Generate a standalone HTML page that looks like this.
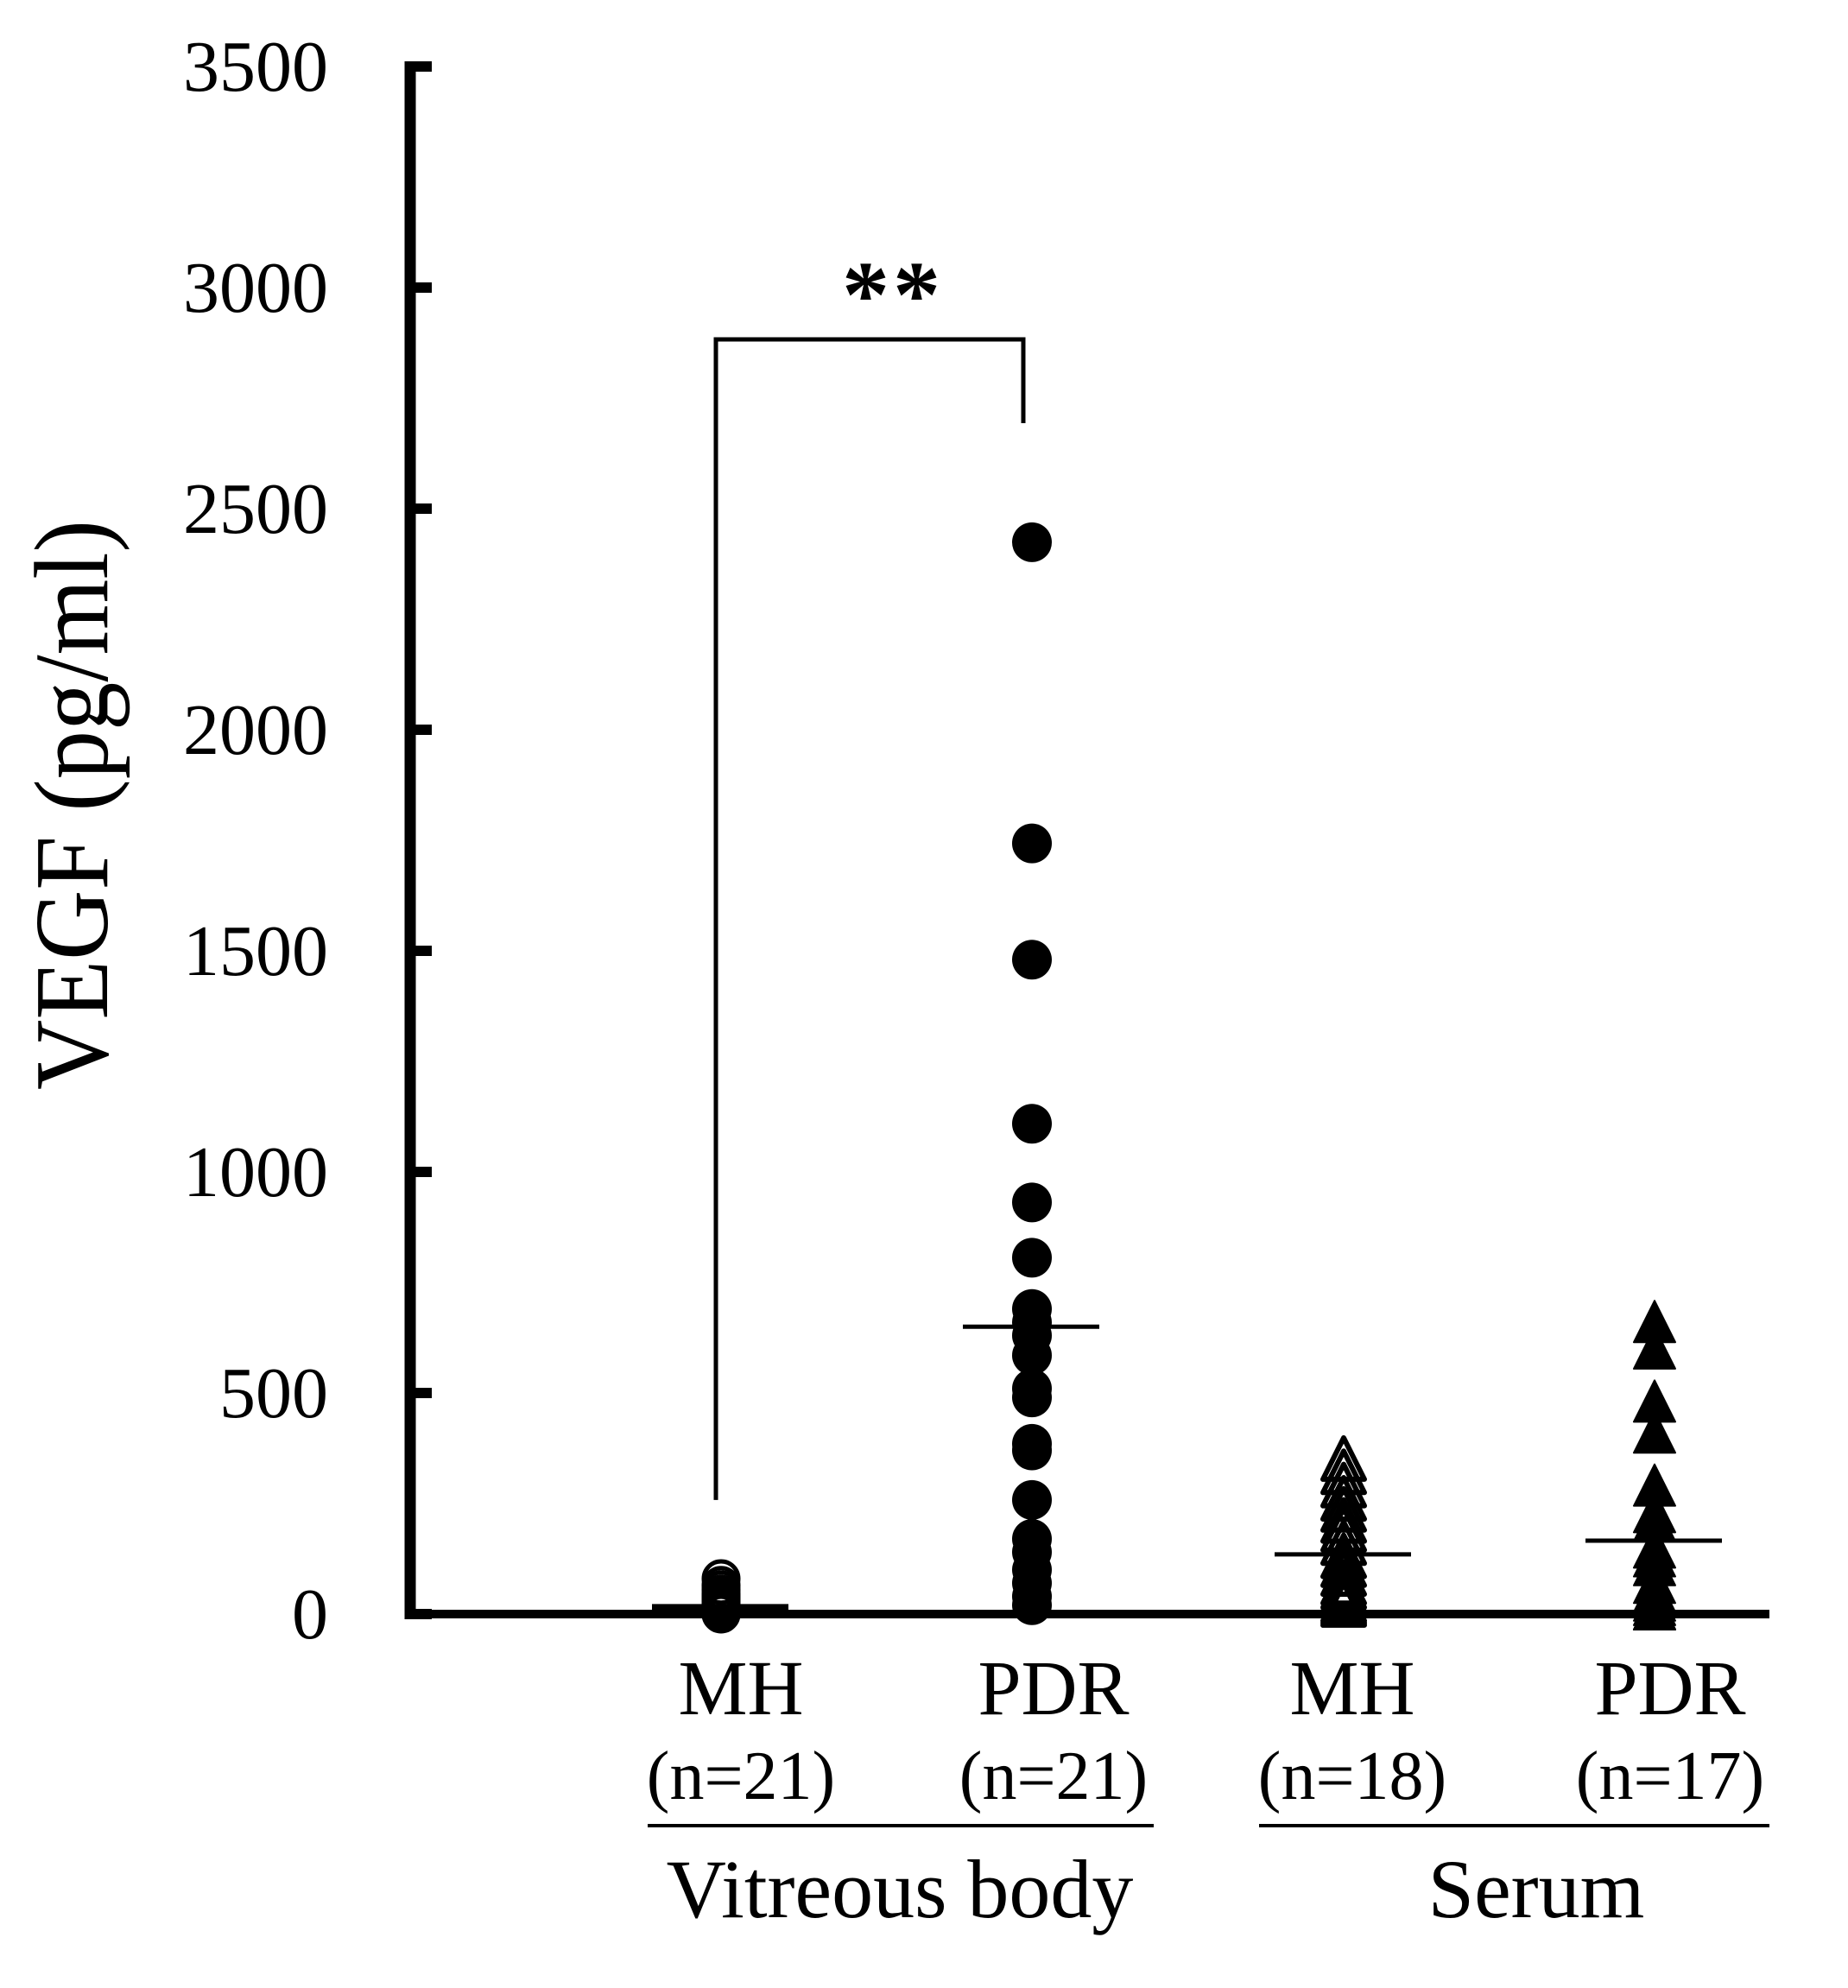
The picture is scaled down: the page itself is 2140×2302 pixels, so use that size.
<!DOCTYPE html>
<html><head><meta charset="utf-8"><style>
html,body{margin:0;padding:0;background:#fff;}
svg{display:block;font-family:"Liberation Serif",serif;}
</style></head><body>
<svg id="chart" width="2140" height="2302" viewBox="0 0 2140 2302" xmlns="http://www.w3.org/2000/svg">
<g id="axes"></g>
<g id="marks"></g>
<text transform="translate(124,932) rotate(-90)" text-anchor="middle" font-size="122" textLength="660" lengthAdjust="spacingAndGlyphs">VEGF (pg/ml)</text>
</svg>
<script>
const yTicks = [0,500,1000,1500,2000,2500,3000,3500];
const categories = ["MH","PDR","MH","PDR"];
const nLabels = ["(n=21)","(n=21)","(n=18)","(n=17)"];
const groupLabels = ["Vitreous body","Serum"];
const vitMH = [80,65,55,45,40,35,30,25,20,18,15,12,10,8,6,5,4,3,2,1,0];
const vitPDR = [2424,1743,1480,1109,931,806,690,660,630,585,510,490,385,370,258,170,140,100,70,40,20];
const serMH = [340,310,280,250,225,200,180,150,120,100,80,60,50,40,30,20,15,10];
const serPDR = [650,590,470,400,280,220,200,140,120,100,60,40,20,10,0,0,0];
const means = [15,650,135,166];

const NS="http://www.w3.org/2000/svg";
const y0=1869, pxPer=256/500;
function yS(v){return y0 - v*pxPer;}
const colX=[835,1195,1556,1916];
const labelX=[858,1220,1566,1934];
const axes=document.getElementById('axes'), marks=document.getElementById('marks'), svg=document.getElementById('chart');
function mk(tag,attrs,parent){const e=document.createElementNS(NS,tag);for(const k in attrs)e.setAttribute(k,attrs[k]);(parent||svg).appendChild(e);return e;}

let e=mk('line',{x1:475,y1:yS(3500)-6,x2:475,y2:y0+6,stroke:'#000','stroke-width':13},axes);


e=mk('line',{x1:469,y1:y0,x2:2049,y2:y0,stroke:'#000','stroke-width':10},axes);


yTicks.forEach(t=>{
  const tk=mk('line',{x1:475,y1:yS(t),x2:500,y2:yS(t),stroke:'#000','stroke-width':12},axes);
  
  
  const tl=mk('text',{x:380,y:yS(t)+28,'text-anchor':'end','font-size':84},axes);
  tl.textContent=t;
  
  
});
categories.forEach((c,i)=>{
  const t=mk('text',{x:labelX[i],y:1985,'text-anchor':'middle','font-size':90},axes);
  t.textContent=c;
  
  
  const n=mk('text',{x:labelX[i],y:2083,'text-anchor':'middle','font-size':80},axes);
  n.textContent=nLabels[i];
  
  
});
[[750,1336,1042],[1458,2049,1779]].forEach((g,i)=>{
  const l=mk('line',{x1:g[0],y1:2114,x2:g[1],y2:2114,stroke:'#000','stroke-width':4},axes);
  
  
  const t=mk('text',{x:g[2],y:2220,'text-anchor':'middle','font-size':96},axes);
  t.textContent=groupLabels[i];
  
  
});
e=mk('polyline',{points:`829,${yS(258)} 829,393 1185,393 1185,490`,fill:'none',stroke:'#000','stroke-width':5},axes);


e=mk('text',{x:1034,y:378,'text-anchor':'middle','font-size':110,'font-weight':'bold','letter-spacing':'4'},axes);
e.textContent='**';



function circles(arr,i,filled){
  arr.forEach(v=>{
    const c=mk('circle',{cx:colX[i],cy:yS(v),r:filled?23:20,fill:filled?'#000':'none',stroke:'#000','stroke-width':filled?0:5},marks);
    
    
  });
}
function tris(arr,i,filled){
  arr.forEach(v=>{
    const cx=colX[i], cy=yS(v);
    const p=mk('polygon',{points:`${cx},${cy-30} ${cx-24},${cy+18} ${cx+24},${cy+18}`,fill:filled?'#000':'none',stroke:'#000','stroke-width':filled?2:6,'stroke-linejoin':'round'},marks);
    
    
  });
}
circles(vitMH,0,false);
circles(vitPDR,1,true);
tris(serMH,2,false);
tris(serPDR,3,true);
means.forEach((m,i)=>{
  const l=mk('line',{x1:colX[i]-80,y1:yS(m),x2:colX[i]+78,y2:yS(m),stroke:'#000','stroke-width':i===0?8:5},marks);
  
  
});
</script>
</body></html>
